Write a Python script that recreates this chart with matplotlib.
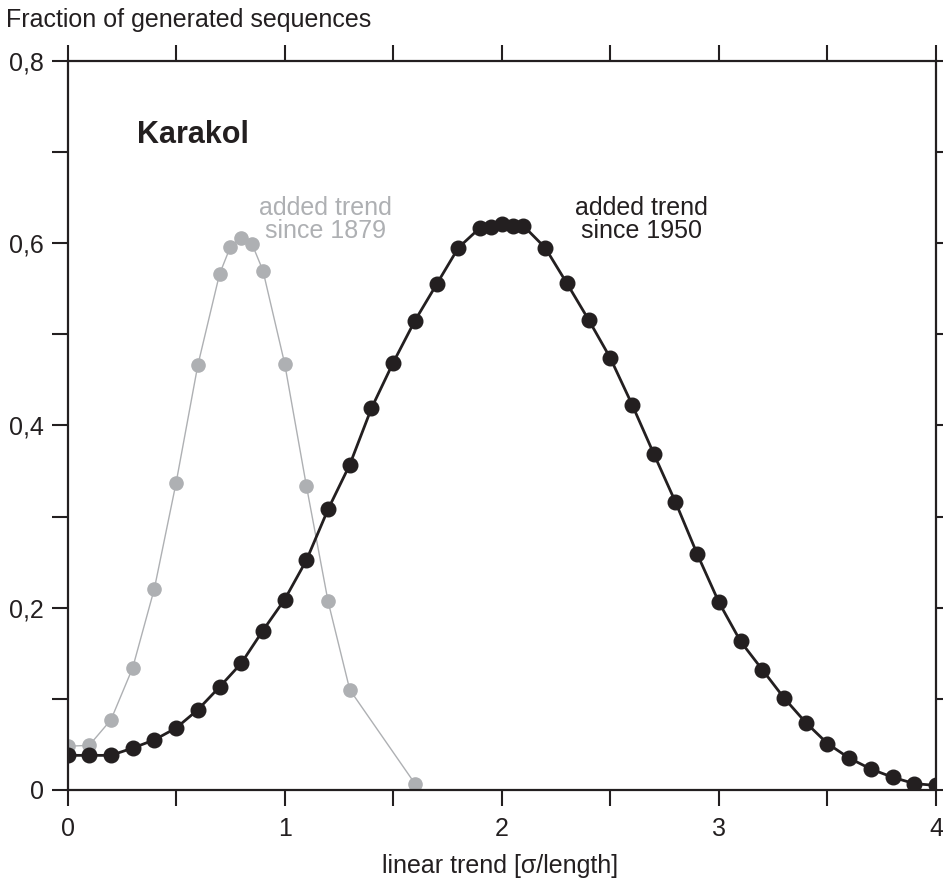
import numpy as np
import matplotlib
matplotlib.use("Agg")
import matplotlib.pyplot as plt
from matplotlib.ticker import MultipleLocator, FuncFormatter

plt.rcParams['font.family'] = ['Liberation Sans', 'DejaVu Sans']

# data
x_1950 = [0.0, 0.1, 0.2, 0.3, 0.4, 0.5, 0.6, 0.7, 0.8, 0.9, 1.0, 1.1, 1.2, 1.3,
          1.4, 1.5, 1.6, 1.7, 1.8, 1.9, 1.95, 2.0, 2.05, 2.1, 2.2, 2.3, 2.4,
          2.5, 2.6, 2.7, 2.8, 2.9, 3.0, 3.1, 3.2, 3.3, 3.4, 3.5, 3.6, 3.7,
          3.8, 3.9, 4.0]
y_1950 = [0.038, 0.038, 0.038, 0.046, 0.055, 0.068, 0.088, 0.113, 0.139, 0.175,
          0.209, 0.252, 0.308, 0.357, 0.419, 0.469, 0.515, 0.555, 0.595, 0.617,
          0.618, 0.621, 0.619, 0.619, 0.595, 0.556, 0.516, 0.474, 0.423, 0.369,
          0.316, 0.259, 0.206, 0.163, 0.132, 0.101, 0.074, 0.051, 0.035, 0.023,
          0.014, 0.007, 0.005]

x_1879 = [0.0, 0.1, 0.2, 0.3, 0.4, 0.5, 0.6, 0.7, 0.75, 0.8, 0.85, 0.9,
          1.0, 1.1, 1.2, 1.3, 1.6]
y_1879 = [0.048, 0.049, 0.077, 0.134, 0.221, 0.337, 0.466, 0.566, 0.596,
          0.606, 0.599, 0.570, 0.468, 0.334, 0.207, 0.110, 0.007]

black = '#231f20'
gray = '#aeb0b3'

fig = plt.figure(figsize=(9.43, 8.81), dpi=100)
ax = fig.add_axes([0.0716, 0.1033, 0.9210, 0.8275])

ax.plot(x_1879, y_1879, '-o', color=gray, lw=1.0, ms=9.5, zorder=2)
ax.plot(x_1950, y_1950, '-o', color=black, lw=2.0, ms=10.5, zorder=3)

ax.set_xlim(0, 4)
ax.set_ylim(0, 0.8)
ax.xaxis.set_major_locator(MultipleLocator(1))
ax.xaxis.set_minor_locator(MultipleLocator(0.5))
ax.yaxis.set_major_locator(MultipleLocator(0.2))
ax.yaxis.set_minor_locator(MultipleLocator(0.1))

def comma(v, pos):
    if abs(v) < 1e-9:
        return '0'
    return ('%g' % v).replace('.', ',')

ax.xaxis.set_major_formatter(FuncFormatter(comma))
ax.yaxis.set_major_formatter(FuncFormatter(comma))

for s in ax.spines.values():
    s.set_linewidth(1.6)
    s.set_color(black)
ax.tick_params(which='both', direction='out', length=11.5, width=1.5,
               color=black, top=True, right=True, labelsize=18,
               labelcolor=black)
ax.tick_params(axis='x', which='both', pad=8)
ax.tick_params(axis='y', which='both', pad=5.5)

# axis titles
fig.text(0.530, 0.009, 'linear trend [σ/length]', fontsize=18, color=black,
         ha='center', va='baseline')
fig.text(0.006, 0.977, 'Fraction of generated sequences', fontsize=18,
         color=black, ha='left', va='center')

ax.text(0.318, 0.710, 'Karakol', fontsize=22, fontweight='bold', color=black,
        ha='left', va='baseline')
ax.text(1.19, 0.626, 'added trend\nsince 1879', fontsize=18, color=gray,
        ha='center', va='center', linespacing=0.92)
ax.text(2.644, 0.626, 'added trend\nsince 1950', fontsize=18, color=black,
        ha='center', va='center', linespacing=0.92)

fig.savefig('out.png', dpi=100)
